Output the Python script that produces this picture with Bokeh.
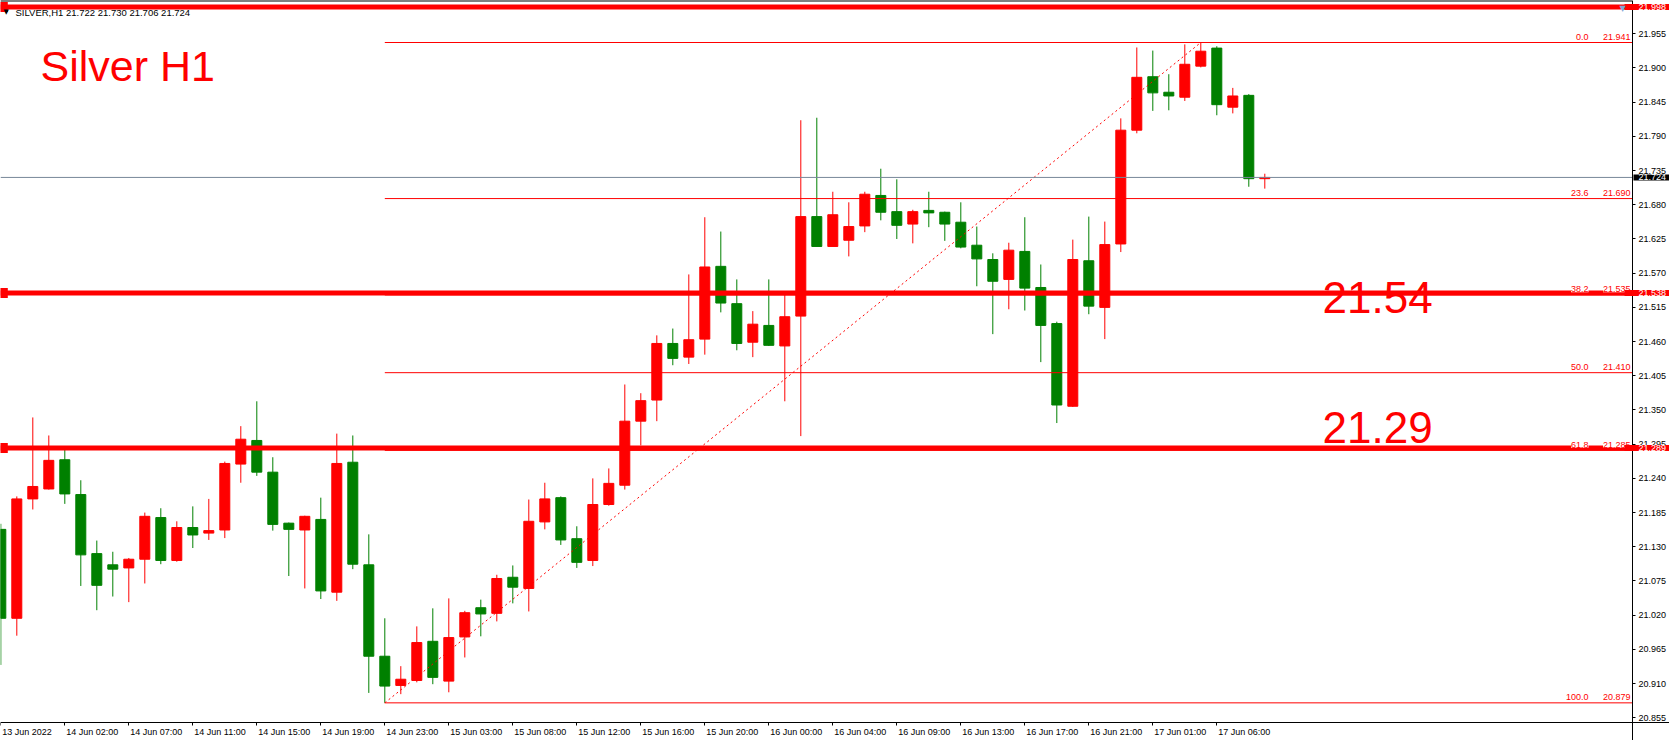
from bokeh.plotting import figure
from bokeh.models import Range1d, LinearAxis, FixedTicker, PrintfTickFormatter, Label
from bokeh.embed import file_html
from bokeh.resources import INLINE

FONT = "Liberation Sans"
RED = "#FF0000"
GREEN = "#008000"

symbol = "SILVER,H1"
chart_title = "Silver H1"

opens = [21.158, 21.015, 21.207, 21.223, 21.270, 21.214, 21.119, 21.101, 21.096, 21.110,
         21.177, 21.108, 21.161, 21.152, 21.157, 21.263, 21.301, 21.250, 21.168, 21.157,
         21.174, 21.057, 21.266, 21.101, 20.954, 20.907, 20.915, 20.978, 20.914, 20.985,
         21.032, 21.023, 21.081, 21.063, 21.170, 21.209, 21.143, 21.108, 21.198, 21.229,
         21.332, 21.366, 21.457, 21.435, 21.464, 21.581, 21.521, 21.459, 21.486, 21.453,
         21.501, 21.661, 21.613, 21.623, 21.646, 21.695, 21.669, 21.649, 21.671, 21.668,
         21.652, 21.615, 21.592, 21.560, 21.605, 21.547, 21.489, 21.356, 21.590, 21.515,
         21.617, 21.800, 21.886, 21.861, 21.853, 21.903, 21.932, 21.837, 21.856, 21.722]
highs = [21.167, 21.211, 21.338, 21.309, 21.289, 21.237, 21.140, 21.122, 21.112, 21.185,
         21.192, 21.171, 21.195, 21.207, 21.267, 21.324, 21.364, 21.274, 21.169, 21.180,
         21.209, 21.312, 21.309, 21.150, 21.015, 20.938, 21.002, 21.031, 21.047, 21.027,
         21.045, 21.085, 21.100, 21.206, 21.233, 21.211, 21.163, 21.240, 21.256, 21.391,
         21.377, 21.470, 21.481, 21.568, 21.660, 21.637, 21.560, 21.509, 21.560, 21.535,
         21.816, 21.820, 21.701, 21.684, 21.701, 21.738, 21.721, 21.672, 21.701, 21.669,
         21.684, 21.645, 21.602, 21.619, 21.660, 21.584, 21.492, 21.624, 21.661, 21.653,
         21.819, 21.933, 21.928, 21.890, 21.938, 21.941, 21.935, 21.868, 21.858, 21.730]
lows = [20.940, 20.987, 21.190, 21.222, 21.199, 21.067, 21.028, 21.050, 21.041, 21.071,
        21.102, 21.106, 21.128, 21.141, 21.144, 21.233, 21.244, 21.156, 21.083, 21.063,
        21.046, 21.043, 21.094, 20.895, 20.879, 20.893, 20.912, 20.909, 20.896, 20.952,
        20.986, 21.010, 21.039, 21.026, 21.158, 21.133, 21.096, 21.099, 21.196, 21.222,
        21.293, 21.332, 21.422, 21.424, 21.439, 21.507, 21.446, 21.435, 21.453, 21.364,
        21.308, 21.613, 21.613, 21.597, 21.636, 21.655, 21.625, 21.618, 21.644, 21.622,
        21.610, 21.549, 21.472, 21.512, 21.510, 21.427, 21.329, 21.355, 21.504, 21.464,
        21.604, 21.795, 21.831, 21.832, 21.847, 21.901, 21.824, 21.827, 21.709, 21.706]
closes = [21.015, 21.207, 21.227, 21.269, 21.215, 21.117, 21.068, 21.094, 21.110, 21.179,
          21.108, 21.161, 21.149, 21.156, 21.264, 21.303, 21.250, 21.166, 21.158, 21.179,
          21.059, 21.264, 21.102, 20.954, 20.906, 20.917, 20.976, 20.920, 20.984, 21.024,
          21.022, 21.079, 21.065, 21.171, 21.207, 21.141, 21.105, 21.198, 21.232, 21.332,
          21.365, 21.457, 21.433, 21.463, 21.580, 21.522, 21.457, 21.488, 21.454, 21.500,
          21.661, 21.613, 21.664, 21.645, 21.697, 21.668, 21.647, 21.669, 21.667, 21.649,
          21.612, 21.593, 21.557, 21.607, 21.546, 21.486, 21.358, 21.592, 21.517, 21.616,
          21.800, 21.885, 21.860, 21.855, 21.906, 21.927, 21.841, 21.855, 21.722, 21.724]

time_tick_bars = [0, 4, 8, 12, 16, 20, 24, 28, 32, 36, 40, 44, 48, 52, 56, 60, 64, 68, 72, 76]
time_tick_labels = ["13 Jun 2022", "14 Jun 02:00", "14 Jun 07:00", "14 Jun 11:00", "14 Jun 15:00",
                    "14 Jun 19:00", "14 Jun 23:00", "15 Jun 03:00", "15 Jun 08:00", "15 Jun 12:00",
                    "15 Jun 16:00", "15 Jun 20:00", "16 Jun 00:00", "16 Jun 04:00", "16 Jun 09:00",
                    "16 Jun 13:00", "16 Jun 17:00", "16 Jun 21:00", "17 Jun 01:00", "17 Jun 06:00"]

price_ticks = [21.955, 21.900, 21.845, 21.790, 21.735, 21.680, 21.625, 21.570, 21.515, 21.460,
               21.405, 21.350, 21.295, 21.240, 21.185, 21.130, 21.075, 21.020, 20.965, 20.910, 20.855]

levels = [21.998, 21.538, 21.289]
level_big_texts = ["21.54", "21.29"]        # written at levels[1], levels[2]

fib_bars = [24, 75]
fib_anchor_prices = [20.879, 21.941]
fib_pcts = ["0.0", "23.6", "38.2", "50.0", "61.8", "100.0"]
fib_levels = [21.941, 21.690, 21.535, 21.410, 21.285, 20.879]

current_price = closes[-1]

# ---------------------------------------------------------------- geometry (pixel scale of the chart)
W, H = 1669, 740
PX_PER_BAR = 16.0
BAR0_PX = 0.3
PX_PER_PRICE = 621.8
REF_PRICE, REF_PX = 21.955, 33.3
AXIS_X_PX, AXIS_Y_PX = 1632, 722
LIFT = 0.3   # baseline correction of Label text, in em

x0 = -BAR0_PX / PX_PER_BAR
x1 = x0 + W / PX_PER_BAR
y1 = REF_PRICE + REF_PX / PX_PER_PRICE
y0 = y1 - H / PX_PER_PRICE
axis_x = x0 + AXIS_X_PX / PX_PER_BAR
axis_y = y1 - AXIS_Y_PX / PX_PER_PRICE

p = figure(width=W, height=H,
           x_range=Range1d(x0, x1), y_range=Range1d(y0, y1),
           output_backend="svg", toolbar_location=None,
           x_axis_location=None, y_axis_location=None,
           min_border_left=0, min_border_right=0, min_border_top=0, min_border_bottom=0)
p.background_fill_color = "white"
p.border_fill_color = "white"
p.outline_line_color = None
p.grid.visible = False

yax = LinearAxis(ticker=FixedTicker(ticks=price_ticks),
                 formatter=PrintfTickFormatter(format="%.3f"),
                 fixed_location=axis_x)
yax.axis_line_color = "black"
yax.major_tick_out = 3
yax.major_tick_in = 0
yax.minor_tick_line_color = None
yax.major_label_standoff = 3
yax.major_label_text_font = FONT
yax.major_label_text_font_size = "9px"
yax.major_label_text_color = "black"
p.add_layout(yax, "right")

xax = LinearAxis(ticker=FixedTicker(ticks=time_tick_bars),
                 major_label_overrides={b: "" for b in time_tick_bars},
                 fixed_location=axis_y)
xax.axis_line_color = "black"
xax.major_tick_out = 3
xax.major_tick_in = 0
xax.minor_tick_line_color = None
xax.major_label_standoff = 0
xax.major_label_text_font_size = "1px"
p.add_layout(xax, "below")

for b, t in zip(time_tick_bars, time_tick_labels):
    p.add_layout(Label(x=b, y=H - 734.3 + LIFT * 9, x_units="data", y_units="screen", text=t,
                       x_offset=1.5, text_align="left", text_baseline="alphabetic",
                       text_font=FONT, text_font_size="9px", text_color="black"))

# top border line of the chart window
p.segment(x0=x0, y0=y1, x1=axis_x, y1=y1, line_color="black", line_width=2)

# ---------------------------------------------------------------- candles
xs = list(range(len(opens)))
colors = [RED if c >= o else GREEN for o, c in zip(opens, closes)]
tops = [max(o, c) for o, c in zip(opens, closes)]
bots = [min(o, c) for o, c in zip(opens, closes)]
p.segment(xs, highs, xs, lows, color=colors, line_width=1)
p.vbar(x=xs, width=0.625, top=tops, bottom=bots, fill_color=colors, line_color=colors, line_width=1)

# ---------------------------------------------------------------- fibonacci
p.segment(x0=fib_bars[0], y0=fib_levels, x1=axis_x, y1=fib_levels, line_color=RED, line_width=1)
p.line(fib_bars, fib_anchor_prices, line_color=RED, line_width=1, line_dash="2 3")

# ---------------------------------------------------------------- horizontal levels
p.segment(x0=x0, y0=current_price, x1=axis_x, y1=current_price, line_color="#778899", line_width=1)
p.segment(x0=x0, y0=levels, x1=axis_x, y1=levels, line_color=RED, line_width=5)
p.rect(x=0, y=levels, width=14, height=10, width_units="screen", height_units="screen",
       fill_color=RED, line_color=None)

for pct, lv in zip(fib_pcts, fib_levels):
    p.add_layout(Label(x=1588, y=lv, x_units="screen", y_units="data", text=pct,
                       text_align="right", text_baseline="alphabetic", y_offset=3 + LIFT * 9,
                       text_font=FONT, text_font_size="9px", text_color=RED,
                       background_fill_color="white"))
    p.add_layout(Label(x=1630, y=lv, x_units="screen", y_units="data", text=f"{lv:.3f}",
                       text_align="right", text_baseline="alphabetic", y_offset=3 + LIFT * 9,
                       text_font=FONT, text_font_size="9px", text_color=RED,
                       background_fill_color="white"))

big_text_offsets = [-18, 7]
for txt, lv, off in zip(level_big_texts, levels[1:], big_text_offsets):
    p.add_layout(Label(x=1322, y=lv, x_units="screen", y_units="data", text=txt,
                       text_align="left", text_baseline="alphabetic", y_offset=off + LIFT * 44,
                       text_font=FONT, text_font_size="44px", text_color=RED))

# price boxes on the axis (box left edge = x, text starts after the left padding)
for lv in levels:
    p.add_layout(Label(x=1624, y=lv, x_units="screen", y_units="data", text=f"{lv:.3f}",
                       text_align="left", text_baseline="middle",
                       text_font=FONT, text_font_size="9px", text_color="white",
                       background_fill_color=RED,
                       padding=dict(left=14, right=3, top=0, bottom=0)))
p.add_layout(Label(x=1633, y=current_price, x_units="screen", y_units="data",
                   text=f"{current_price:.3f}", text_align="left", text_baseline="middle",
                   text_font=FONT, text_font_size="9px", text_color="white",
                   background_fill_color="black",
                   padding=dict(left=5, right=3, top=0, bottom=0)))

# ---------------------------------------------------------------- texts
p.add_layout(Label(x=40, y=H - 78.3 + LIFT * 43, x_units="screen", y_units="screen", text=chart_title,
                   text_align="left", text_baseline="alphabetic",
                   text_font=FONT, text_font_size="43px", text_color=RED))
header = f"{symbol}  {opens[-1]:.3f} {highs[-1]:.3f} {lows[-1]:.3f} {closes[-1]:.3f}"
p.add_layout(Label(x=15, y=H - 15 + LIFT * 9.5, x_units="screen", y_units="screen", text=header,
                   text_align="left", text_baseline="alphabetic",
                   text_font=FONT, text_font_size="9.5px", text_color="black"))
p.add_layout(Label(x=3, y=H - 14 + LIFT * 7, x_units="screen", y_units="screen", text="\u25BC",
                   text_align="left", text_baseline="alphabetic",
                   text_font="DejaVu Sans", text_font_size="7px", text_color="black"))
p.add_layout(Label(x=1619, y=H - 10 + LIFT * 8, x_units="screen", y_units="screen", text="\u25BC",
                   text_align="left", text_baseline="alphabetic",
                   text_font="DejaVu Sans", text_font_size="8px", text_color="#7FA7D6"))

open("out.html", "w").write(file_html(p, INLINE))
